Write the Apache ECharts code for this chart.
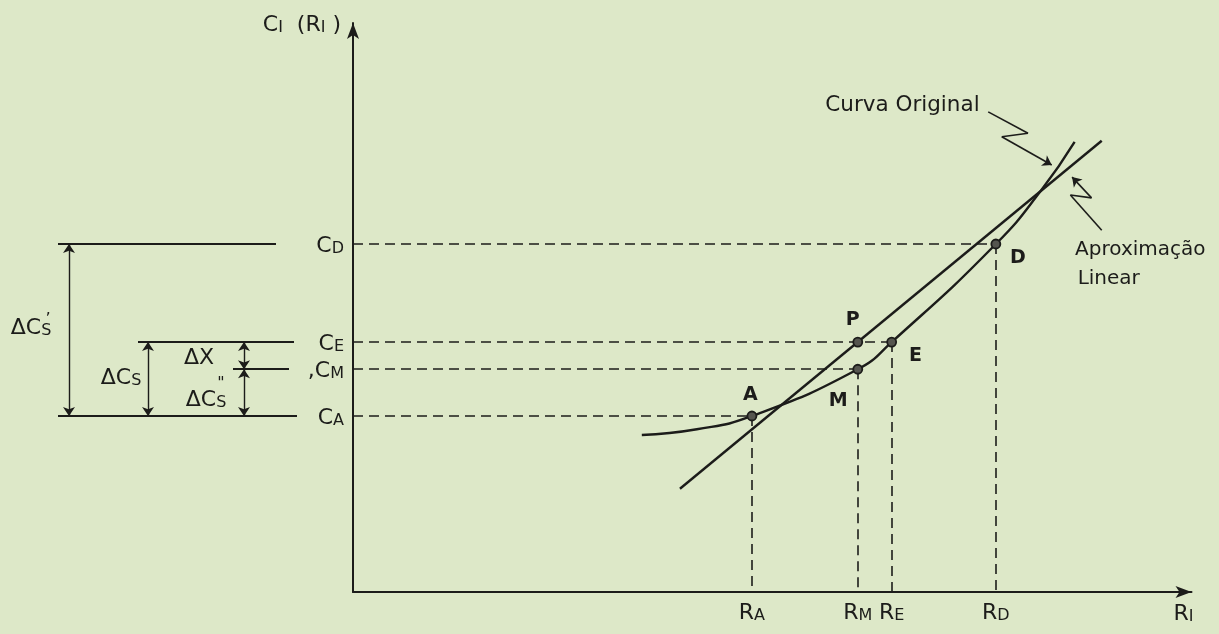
<!DOCTYPE html>
<html><head><meta charset="utf-8">
<script src="https://cdn.jsdelivr.net/npm/echarts@6/dist/echarts.min.js"></script>
<style>html,body{margin:0;padding:0;background:#dde8c8}#c{width:1219px;height:634px}</style>
</head><body><div id="c"></div>
<script>
// ---- data ----
const xTickValues = [47.1, 59.6, 63.6, 75.9];
const xTickNames = [['R','A'], ['R','M'], ['R','E'], ['R','D']];
const yTickValues = [30.5, 38.6, 43.3, 60.3];
const yTickNames = [['C','A'], [',C','M'], ['C','E'], ['C','D']];

const curveX = [34.1, 40.6, 47.1, 59.6, 63.6, 75.9, 81.3, 85.2];
const curveY = [27.2, 28.2, 30.5, 38.6, 43.3, 60.3, 69.7, 78.0];
const linearX = [38.6, 88.4];
const linearY = [17.9, 78.2];

const pointNames = ['A', 'M', 'P', 'E', 'D'];
const pointX = [47.1, 59.6, 59.6, 63.6, 75.9];
const pointY = [30.5, 38.6, 43.3, 43.3, 60.3];
const pointLabelX = [46.9, 57.3, 59.0, 66.4, 78.5];
const pointLabelY = [34.1, 33.1, 47.1, 40.9, 57.9];
const dashedFrom = ['A', 'M', 'E', 'D'];

const noteTexts = ['Curva Original', 'Aproximação', 'Linear'];
const noteX = [55.7, 85.2, 85.5];
const noteY = [84.4, 59.3, 54.2];

const zigOriginalX = [75.0, 79.7, 76.6, 82.5];
const zigOriginalY = [83.2, 79.5, 78.9, 74.0];
const zigLinearX = [88.4, 84.7, 87.2, 84.9];
const zigLinearY = [62.7, 68.8, 68.3, 71.9];

// left annotation panel (x in panel units 0..353)
const levelLineFrom = [58, 233, 138, 58];   // for C_A, C_M, C_E, C_D
const levelLineTo   = [297, 289, 294, 276];
const deltaArrowX   = [69, 148, 244, 244];
const deltaArrowTop = [3, 2, 2, 1];          // index into yTickValues
const deltaArrowBot = [0, 0, 1, 0];
const deltaNames = [['ΔC','S'], ['ΔC','S'], ['ΔX',''], ['ΔC','S']];
const deltaLabelX = [31, 121, 199, 206];
const deltaLabelY = [46.1, 37.4, 40.9, 33.6];
const primeTexts = ['\u2019', '"'];
const primeX = [48, 221];
const primeY = [47.2, 36.0];

// ---- styling ----
const INK = '#1c1c1a';
const F = '"DejaVu Sans", sans-serif';
const rich = {
  m: {fontSize: 22, fontFamily: F, color: INK, lineHeight: 26, verticalAlign: 'bottom'},
  s: {fontSize: 16, fontFamily: F, color: INK, lineHeight: 14, verticalAlign: 'bottom'}
};
function rt(main, sub) { return '{m|' + main + '}' + (sub ? '{s|' + sub + '}' : ''); }
const zip = (a, b) => a.map((v, i) => [v, b[i]]);
const HIDDEN = {color: 'rgba(0,0,0,0)', opacity: 1};

const idx = n => pointNames.indexOf(n);
const dashedSegs = [];
dashedFrom.forEach(n => {
  const i = idx(n);
  dashedSegs.push({coords: [[0, pointY[i]], [pointX[i], pointY[i]]]});
  dashedSegs.push({coords: [[pointX[i], pointY[i]], [pointX[i], 0]]});
});
function zigSegs(xs, ys) {
  const plain = [], arrow = [];
  for (let i = 0; i < xs.length - 1; i++) {
    const seg = {coords: [[xs[i], ys[i]], [xs[i + 1], ys[i + 1]]]};
    (i === xs.length - 2 ? arrow : plain).push(seg);
  }
  return {plain, arrow};
}
const z1 = zigSegs(zigOriginalX, zigOriginalY);
const z2 = zigSegs(zigLinearX, zigLinearY);

const levelSegs = yTickValues.map((y, i) => ({coords: [[levelLineFrom[i], y], [levelLineTo[i], y]]}));
const arrowSegs = deltaArrowX.map((x, i) => ({coords: [[x, yTickValues[deltaArrowTop[i]]], [x, yTickValues[deltaArrowBot[i]]]]}));

const chart = echarts.init(document.getElementById('c'));
chart.setOption({
  backgroundColor: '#dde8c8',
  animation: false,
  grid: [
    {left: 353, right: 27.5, top: 23, bottom: 42},
    {left: 0, width: 353, top: 23, bottom: 42}
  ],
  xAxis: [
    {gridIndex: 0, type: 'value', min: 0, max: 99, splitLine: {show: false}, axisTick: {show: false},
     axisLine: {show: true, onZero: false, symbol: ['none', 'arrow'], symbolSize: [9, 16], lineStyle: {color: INK, width: 2}},
     axisLabel: {customValues: xTickValues, margin: 6, rich: rich,
       formatter: v => { const i = xTickValues.indexOf(v); return i < 0 ? '' : rt(xTickNames[i][0], xTickNames[i][1]); }},
     name: rt('R', 'I'), nameLocation: 'end', nameGap: -8,
     nameTextStyle: {align: 'center', verticalAlign: 'top', padding: [7, 0, 0, 0], rich: rich}},
    {gridIndex: 1, type: 'value', min: 0, max: 353, show: false}
  ],
  yAxis: [
    {gridIndex: 0, type: 'value', min: 0, max: 98.6, splitLine: {show: false}, axisTick: {show: false},
     axisLine: {show: true, onZero: false, symbol: ['none', 'arrow'], symbolSize: [9, 16], lineStyle: {color: INK, width: 2}},
     axisLabel: {customValues: yTickValues, margin: 9, rich: rich,
       formatter: v => { const i = yTickValues.indexOf(v); return i < 0 ? '' : rt(yTickNames[i][0], yTickNames[i][1]); }},
     name: '{m|C}{s|I}{m|  (R}{s|I}{m| )}', nameLocation: 'end', nameGap: 0,
     nameTextStyle: {align: 'right', verticalAlign: 'middle', padding: [0, 12, 0, 0], rich: rich}},
    {gridIndex: 1, type: 'value', min: 0, max: 98.6, show: false}
  ],
  series: [
    {type: 'lines', coordinateSystem: 'cartesian2d', xAxisIndex: 0, yAxisIndex: 0, z: 1,
     lineStyle: {color: INK, width: 1.6, type: [10, 6], opacity: 1}, data: dashedSegs},
    {type: 'line', xAxisIndex: 0, yAxisIndex: 0, data: zip(linearX, linearY), symbol: 'none', z: 3,
     lineStyle: {color: INK, width: 2.4}},
    {type: 'line', xAxisIndex: 0, yAxisIndex: 0, data: zip(curveX, curveY), symbol: 'none',
     smooth: 0.5, z: 3,
     lineStyle: {color: INK, width: 2.4}},
    {type: 'scatter', xAxisIndex: 0, yAxisIndex: 0, data: zip(pointX, pointY), symbolSize: 9, z: 5,
     itemStyle: {color: '#55554f', borderColor: INK, borderWidth: 1.8, opacity: 1}},
    {type: 'scatter', xAxisIndex: 0, yAxisIndex: 0, symbolSize: 1, itemStyle: HIDDEN,
     data: pointNames.map((n, i) => ({value: [pointLabelX[i], pointLabelY[i]], name: n})),
     label: {show: true, position: 'inside', formatter: p => p.name, color: INK, fontFamily: F, fontSize: 19, fontWeight: 'bold'}},
    {type: 'scatter', xAxisIndex: 0, yAxisIndex: 0, symbolSize: 1, itemStyle: HIDDEN,
     data: noteTexts.map((n, i) => ({value: [noteX[i], noteY[i]], name: n,
       label: {fontSize: i === 0 ? 21.5 : 20}})),
     label: {show: true, position: 'right', distance: 0, formatter: p => p.name, color: INK, fontFamily: F, fontSize: 20}},
    {type: 'lines', coordinateSystem: 'cartesian2d', xAxisIndex: 0, yAxisIndex: 0,
     lineStyle: {color: INK, width: 1.6, opacity: 1}, data: z1.plain.concat(z2.plain)},
    {type: 'lines', coordinateSystem: 'cartesian2d', xAxisIndex: 0, yAxisIndex: 0,
     symbol: ['none', 'arrow'], symbolSize: 9,
     lineStyle: {color: INK, width: 1.6, opacity: 1}, data: z1.arrow.concat(z2.arrow)},
    // left panel
    {type: 'lines', coordinateSystem: 'cartesian2d', xAxisIndex: 1, yAxisIndex: 1,
     lineStyle: {color: INK, width: 1.8, opacity: 1}, data: levelSegs},
    {type: 'lines', coordinateSystem: 'cartesian2d', xAxisIndex: 1, yAxisIndex: 1,
     symbol: ['arrow', 'arrow'], symbolSize: 9,
     lineStyle: {color: INK, width: 1.4, opacity: 1}, data: arrowSegs},
    {type: 'scatter', xAxisIndex: 1, yAxisIndex: 1, symbolSize: 1, itemStyle: HIDDEN,
     data: deltaNames.map((n, i) => ({value: [deltaLabelX[i], deltaLabelY[i]], name: rt(n[0], n[1])})),
     label: {show: true, position: 'inside', formatter: p => p.name, rich: rich}},
    {type: 'scatter', xAxisIndex: 1, yAxisIndex: 1, symbolSize: 1, itemStyle: HIDDEN,
     data: primeTexts.map((n, i) => ({value: [primeX[i], primeY[i]], name: n})),
     label: {show: true, position: 'inside', formatter: p => p.name, color: INK, fontFamily: F, fontSize: 16}}
  ]
});
</script></body></html>
